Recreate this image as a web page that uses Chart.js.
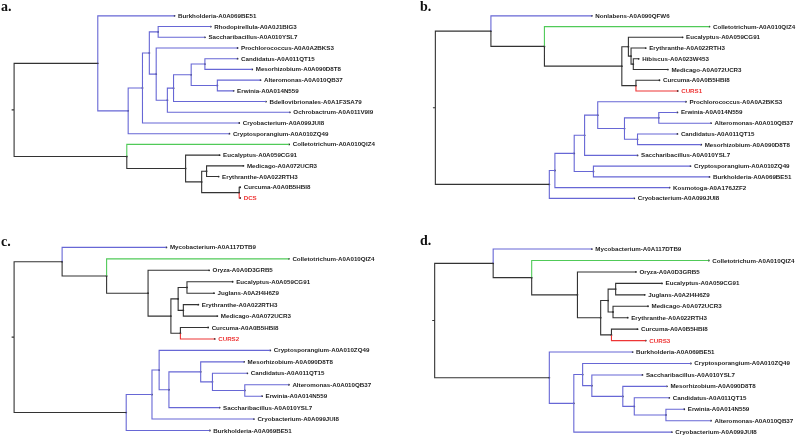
<!DOCTYPE html>
<html>
<head>
<meta charset="utf-8">
<script src="https://cdn.jsdelivr.net/npm/chart.js@4.4.1/dist/chart.umd.min.js"></script>
<style>
body { margin: 0; background: #fff; width: 798px; height: 440px; position: relative; overflow: hidden; }
.panel { position: absolute; }
</style>
</head>
<body>
<div class="panel" style="left:0;top:0"><canvas id="a" width="400" height="220"></canvas></div>
<div class="panel" style="left:400px;top:0"><canvas id="b" width="398" height="220"></canvas></div>
<div class="panel" style="left:0;top:220px"><canvas id="c" width="400" height="220"></canvas></div>
<div class="panel" style="left:400px;top:220px"><canvas id="d" width="398" height="220"></canvas></div>
<script>
// tree a: leaves top to bottom, tip depth from root, internal nodes (children, depth)
const aLeaves = ['Burkholderia-A0A069BE51', 'Rhodopirellula-A0A0J1BIG3', 'Saccharibacillus-A0A010YSL7',
  'Prochlorococcus-A0A0A2BKS3', 'Candidatus-A0A011QT15', 'Mesorhizobium-A0A090D8T8', 'Alteromonas-A0A010QB37',
  'Erwinia-A0A014N559', 'Bdellovibrionales-A0A1F3SA79', 'Ochrobactrum-A0A011V9I9', 'Cryobacterium-A0A099JUI8',
  'Cryptosporangium-A0A010ZQ49', 'Colletotrichum-A0A010QIZ4', 'Eucalyptus-A0A059CG91', 'Medicago-A0A072UCR3',
  'Erythranthe-A0A022RTH3', 'Curcuma-A0A0B5HBI8', 'DCS'];
const aTips = [163.7, 200.7, 194.7, 228, 228, 243, 251.4, 224, 257, 281.4, 229.7, 219.7, 280.7, 209.7, 234, 208.7, 230.7, 230.7];
const aKids = [[1, 2], [4, 5], [6, 7], [19, 20], [21, 8], [22, 9], [3, 23], [18, 24], [25, 10], [26, 11], [0, 27],
  [14, 15], [16, 17], [29, 30], [13, 31], [12, 32], [28, 33]];
const aNodes = [147, 194.7, 207.4, 180.7, 162.7, 156.4, 145, 138, 131, 116.4, 85.4, 196.4, 229.7, 191.4, 175, 115, 0];

// tree b
const bLeaves = ['Nonlabens-A0A090QFW6', 'Colletotrichum-A0A010QIZ4', 'Eucalyptus-A0A059CG91', 'Erythranthe-A0A022RTH3',
  'Hibiscus-A0A023W453', 'Medicago-A0A072UCR3', 'Curcuma-A0A0B5HBI8', 'CURS1', 'Prochlorococcus-A0A0A2BKS3',
  'Erwinia-A0A014N559', 'Alteromonas-A0A010QB37', 'Candidatus-A0A011QT15', 'Mesorhizobium-A0A090D8T8',
  'Saccharibacillus-A0A010YSL7', 'Cryptosporangium-A0A010ZQ49', 'Burkholderia-A0A069BE51', 'Kosmotoga-A0A176JZF2',
  'Cryobacterium-A0A099JUI8'];
const bTips = [159.7, 279.7, 252.3, 214.7, 207.5, 237.3, 228.7, 247.3, 255.7, 247, 281.3, 247, 271.3, 206.3, 260.3, 279.7, 239, 203];
const bKids = [[4, 5], [3, 18], [2, 19], [6, 7], [20, 21], [1, 22], [0, 23], [9, 10], [11, 12], [25, 26], [8, 27],
  [28, 13], [14, 15], [29, 30], [31, 16], [32, 17], [24, 33]];
const bNodes = [202, 199.7, 197, 204.7, 190.3, 111.3, 56.7, 228, 206.3, 193, 165.7, 152.3, 161.3, 141.7, 122, 116.3, 0];

// tree c
const cLeaves = ['Mycobacterium-A0A117DTB9', 'Colletotrichum-A0A010QIZ4', 'Oryza-A0A0D3GRB5', 'Eucalyptus-A0A059CG91',
  'Juglans-A0A2I4H6Z9', 'Erythranthe-A0A022RTH3', 'Medicago-A0A072UCR3', 'Curcuma-A0A0B5HBI8', 'CURS2',
  'Cryptosporangium-A0A010ZQ49', 'Mesorhizobium-A0A090D8T8', 'Candidatus-A0A011QT15', 'Alteromonas-A0A010QB37',
  'Erwinia-A0A014N559', 'Saccharibacillus-A0A010YSL7', 'Cryobacterium-A0A099JUI8', 'Burkholderia-A0A069BE51'];
const cTips = [155.4, 280.4, 199, 223, 204, 188, 207.4, 198, 204.7, 261.4, 234.7, 238, 280.4, 253, 209.7, 244.7, 199.7];
const cKids = [[3, 4], [5, 6], [17, 18], [7, 8], [19, 20], [2, 21], [1, 22], [0, 23], [12, 13], [11, 25], [10, 26],
  [27, 14], [9, 28], [29, 15], [30, 16], [24, 31]];
const cNodes = [176.4, 172.7, 167.4, 169.7, 160, 136.7, 94.4, 49, 235.4, 202.4, 190.4, 158, 148, 140.7, 114.4, 0];

// tree d
const dLeaves = ['Mycobacterium-A0A117DTB9', 'Colletotrichum-A0A010QIZ4', 'Oryza-A0A0D3GRB5', 'Eucalyptus-A0A059CG91',
  'Juglans-A0A2I4H6Z9', 'Medicago-A0A072UCR3', 'Erythranthe-A0A022RTH3', 'Curcuma-A0A0B5HBI8', 'CURS3',
  'Burkholderia-A0A069BE51', 'Cryptosporangium-A0A010ZQ49', 'Saccharibacillus-A0A010YSL7', 'Mesorhizobium-A0A090D8T8',
  'Candidatus-A0A011QT15', 'Erwinia-A0A014N559', 'Alteromonas-A0A010QB37', 'Cryobacterium-A0A099JUI8'];
const dTips = [160.4, 279.7, 205.4, 232, 214.4, 217.7, 197, 207, 215.4, 202, 261.4, 212, 237, 239.4, 254.7, 282, 242];
const dKids = [[3, 4], [5, 6], [17, 18], [7, 8], [19, 20], [2, 21], [1, 22], [0, 23], [14, 15], [13, 25], [12, 26],
  [11, 27], [10, 28], [29, 16], [9, 30], [24, 31]];
const dNodes = [184.7, 182, 177, 180.4, 169.4, 145.7, 99, 59.7, 236, 203.7, 192, 160.4, 151, 142, 117, 0];

const BLUE = '#6767d5', GREEN = '#50ca58', RED = '#ee3535', DARK = '#333333';

function drawTree(id, letter, leaves, tips, kids, nodes, opt) {
  const n = leaves.length;
  const depth = tips.concat(nodes);
  const row = leaves.map((l, i) => i);
  const parent = [];
  kids.forEach((k, j) => {
    row[n + j] = (row[k[0]] + row[k[1]]) / 2;
    parent[k[0]] = n + j;
    parent[k[1]] = n + j;
  });
  const root = n + kids.length - 1;

  function inside(i, anc) {
    while (parent[i] !== undefined) {
      if (parent[i] === anc) return true;
      i = parent[i];
    }
    return false;
  }
  function colour(i) {
    if (i === opt.red) return RED;
    if (i === opt.green) return GREEN;
    if (i === opt.blueLeaf || inside(i, opt.blueClade)) return BLUE;
    return DARK;
  }

  const lines = { [DARK]: [], [BLUE]: [], [GREEN]: [], [RED]: [] };
  for (let i = 0; i < root; i++) {
    const p = parent[i];
    lines[colour(i)].push({x: depth[p], y: row[p]}, {x: depth[p], y: row[i]}, {x: depth[i], y: row[i]}, {x: null, y: null});
  }
  lines[DARK].push({x: -2.5, y: row[root]}, {x: 0, y: row[root]});

  const datasets = Object.keys(lines).map(c => ({
    data: lines[c], showLine: true, borderColor: c, borderWidth: 1.1, pointRadius: 0, spanGaps: false
  }));
  datasets.push({
    data: depth.map((x, i) => ({x: x, y: row[i]})).filter((p, i) => i !== root),
    pointRadius: 0.9, backgroundColor: '#222', borderWidth: 0, showLine: false
  });

  const labels = {
    id: 'labels',
    afterDatasetsDraw(chart) {
      const ctx = chart.ctx, xs = chart.scales.x, ys = chart.scales.y;
      ctx.save();
      ctx.textBaseline = 'middle';
      ctx.font = 'bold 6.2px "Liberation Sans", Arial, sans-serif';
      leaves.forEach((name, i) => {
        ctx.fillStyle = i === opt.red ? RED : '#1e1e1e';
        ctx.fillText(name, xs.getPixelForValue(tips[i]) + 3.5, ys.getPixelForValue(i) + 0.3);
      });
      ctx.font = 'bold 14px "Liberation Serif", "Times New Roman", serif';
      ctx.fillStyle = '#111';
      ctx.textBaseline = 'alphabetic';
      ctx.fillText(letter, opt.letterX, opt.letterY);
      ctx.restore();
    }
  };

  const canvas = document.getElementById(id);
  new Chart(canvas.getContext('2d'), {
    type: 'scatter',
    data: { datasets: datasets },
    options: {
      responsive: false,
      animation: false,
      layout: { padding: 0 },
      plugins: { legend: { display: false }, tooltip: { enabled: false } },
      scales: {
        x: { type: 'linear', display: false, min: -opt.rootX, max: canvas.width - opt.rootX },
        y: { type: 'linear', display: false, reverse: true,
             min: -opt.top / opt.gap, max: (canvas.height - opt.top) / opt.gap }
      }
    },
    plugins: [labels]
  });
}

drawTree('a', 'a.', aLeaves, aTips, aKids, aNodes,
  { blueClade: 28, blueLeaf: -1, green: 12, red: 17, rootX: 10.3, top: 12.3, gap: 11.118, letterX: 1, letterY: 11 });
drawTree('b', 'b.', bLeaves, bTips, bKids, bNodes,
  { blueClade: 33, blueLeaf: 0, green: 1, red: 7, rootX: 32, top: 12.3, gap: 11.14, letterX: 20, letterY: 11 });
drawTree('c', 'c.', cLeaves, cTips, cKids, cNodes,
  { blueClade: 31, blueLeaf: 0, green: 1, red: 8, rootX: 10.3, top: 24.3, gap: 11.875, letterX: 1, letterY: 26 });
drawTree('d', 'd.', dLeaves, dTips, dKids, dNodes,
  { blueClade: 31, blueLeaf: 0, green: 1, red: 8, rootX: 31.3, top: 26, gap: 11.875, letterX: 20, letterY: 25 });
</script>
</body>
</html>
